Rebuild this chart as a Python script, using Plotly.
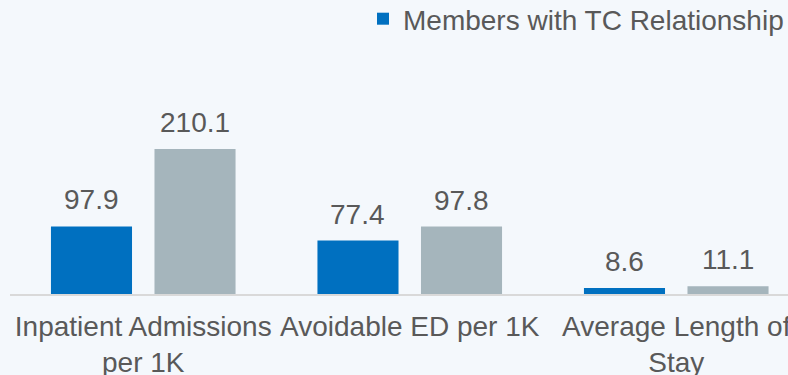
import plotly.graph_objects as go

categories = ["Inpatient Admissions<br>per 1K", "Avoidable ED per 1K", "Average Length of<br>Stay"]
series_names = ["Members with TC Relationship", "Members without TC Relationship"]
with_tc = [97.9, 77.4, 8.6]
without_tc = [210.1, 97.8, 11.1]
series_values = [with_tc, without_tc]
colors = ["#0070C0", "#A5B5BC"]
show_in_legend = [True, False]

FONT = "Liberation Sans, Arial, sans-serif"
TXT = "#595959"
BG = "#F4F8FC"
BARGAP = 0.223
BARGROUPGAP = 0.217
FS = 28

fig = go.Figure()
x_idx = list(range(len(categories)))
for name, vals, col, sl in zip(series_names, series_values, colors, show_in_legend):
    fig.add_trace(go.Bar(
        x=x_idx, y=vals, name=name, marker=dict(color=col, line=dict(width=0)),
        showlegend=sl,
    ))

slot = (1 - BARGAP) / len(series_values)
for j, vals in enumerate(series_values):
    off = (j - (len(series_values) - 1) / 2) * slot
    for i, v in enumerate(vals):
        fig.add_annotation(x=i + off, y=v, text=f"{v:.1f}", showarrow=False,
                           xref="x", yref="y", yanchor="bottom", yshift=9,
                           font=dict(family=FONT, size=FS, color=TXT))

fig.update_layout(
    width=788, height=375,
    margin=dict(l=10, r=0, t=40, b=81, autoexpand=False),
    paper_bgcolor=BG, plot_bgcolor=BG,
    barmode="group", bargap=BARGAP, bargroupgap=BARGROUPGAP,
    font=dict(family=FONT, size=FS, color=TXT),
    legend=dict(orientation="v", x=363 / 788, xref="container", xanchor="left",
                y=1 - 19 / 375, yref="container", yanchor="middle",
                font=dict(family=FONT, size=FS, color=TXT),
                bgcolor="rgba(0,0,0,0)", itemclick=False),
    showlegend=True,
)
fig.update_xaxes(
    tickmode="array", tickvals=x_idx, ticktext=categories,
    range=[-0.5, -0.5 + 778 / 266.5], automargin=False, ticklabeloverflow="allow",
    showgrid=False, zeroline=False, showline=True, linecolor="#D9D9D9", linewidth=2,
    ticks="outside", ticklen=6, tickcolor="rgba(0,0,0,0)",
    tickfont=dict(family=FONT, size=FS, color=TXT),
)
fig.update_yaxes(range=[0, 254 / 0.690], visible=False, showgrid=False, zeroline=False,
                 automargin=False)

fig.write_html("out.html", config={"displayModeBar": False},
               post_script="document.body.style.margin='0';document.body.style.overflow='hidden';")
